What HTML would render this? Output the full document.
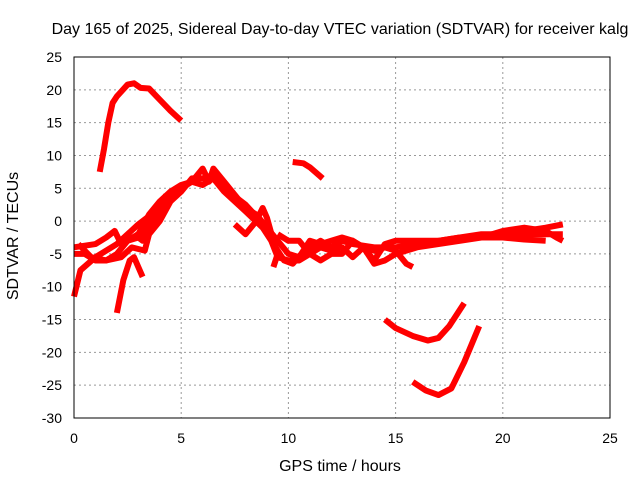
<!DOCTYPE html>
<html><head><meta charset="utf-8"><style>
body{margin:0;background:#fff;}
svg{display:block;font-family:"Liberation Sans",sans-serif;}
</style></head><body>
<svg id="chart" width="640" height="480">
<text x="340" y="34" font-size="16" text-anchor="middle">Day 165 of 2025, Sidereal Day-to-day VTEC variation (SDTVAR) for receiver kalg</text>
<text x="340" y="471" font-size="16" text-anchor="middle">GPS time / hours</text>
<text transform="translate(18,236) rotate(-90)" font-size="16" text-anchor="middle">SDTVAR / TECUs</text>
<g id="grid"></g><g id="series"></g>
<rect x="74" y="57" width="536" height="361" fill="none" stroke="#000" stroke-width="1"/>
</svg>
<script>
const xTicks=[0,5,10,15,20,25];
const yTicks=[25,20,15,10,5,0,-5,-10,-15,-20,-25,-30];
const arcTop=[[1.2,7.5],[1.4,11],[1.6,15],[1.8,18],[2.0,19],[2.5,20.8],[2.8,21],[3.1,20.3],[3.5,20.2],[4.0,18.5],[4.5,16.8],[5.0,15.3]];
const arcMid=[[10.2,9],[10.7,8.8],[11.0,8.2],[11.6,6.5]];
const arcLow1=[[14.5,-15],[15,-16.3],[15.8,-17.5],[16.5,-18.2],[17,-17.8],[17.5,-16],[18.2,-12.5]];
const arcLow2=[[15.8,-24.5],[16.4,-25.8],[17,-26.5],[17.6,-25.5],[18.2,-21.5],[18.9,-16]];
const lineA=[[0,-11.5],[0.3,-7.5],[1,-5.5],[2,-3.5],[3,-0.5],[4,2],[5,4.5],[5.5,6.5],[6,6.5],[6.5,7],[7,5],[8,2.5],[9,-1],[9.5,-3],[10,-5],[10.5,-5.5],[11,-4],[11.5,-3],[12,-4],[12.5,-3],[13,-3.5],[14,-4],[15,-4],[16,-3.5],[17,-3],[18,-2.5],[19,-2],[20,-2],[21,-1.5],[22,-1],[22.8,-0.5]];
const lineB=[[0,-4],[1,-3.5],[1.5,-2.5],[1.9,-1.5],[2.2,-3.5],[3,-2],[3.5,1],[4,3],[4.5,4.5],[5,5.5],[5.5,6],[6,8],[6.3,6],[6.5,8],[7,6],[7.5,4],[8,2],[8.5,1],[9,-1],[9.3,-3.5],[9.8,-6],[10.2,-6.5],[10.6,-5],[11,-3],[11.5,-3.5],[12,-3],[12.5,-2.5],[13,-3],[13.5,-4],[14,-4.5],[14.5,-4],[15,-4.5],[15.5,-6.5],[15.8,-7]];
const lineC=[[0,-5],[0.5,-5],[1,-6],[1.5,-6],[2,-5],[2.5,-3],[3,-2.5],[3.5,-1],[4,1],[4.5,4],[5,5],[5.5,6],[6,5.5],[6.5,6.5],[7,4.5],[8,1.5],[8.8,-1],[9.2,-3],[9.5,-5.5],[10,-6],[10.5,-6],[11,-5],[11.5,-4],[12,-4.5],[12.5,-4],[13,-5.5],[13.5,-4],[14,-6],[14.5,-3.5],[15,-3],[16,-3],[17,-3],[18,-2.5],[19,-2.5],[20,-2.5],[21,-2.8],[22,-3]];
const lineD=[[0.2,-3.5],[0.8,-5.5],[1.5,-6],[2.2,-5.5],[2.7,-4],[3.3,-4.5],[3.5,-2],[4,0],[4.5,3],[5,4.5]];
const lineE=[[2.8,-2],[3.2,-3],[3.5,0],[4,2],[4.3,4]];
const lineF=[[2.0,-14],[2.3,-9],[2.6,-6],[2.8,-5.5],[3.0,-7],[3.2,-8.5]];
const lineG=[[7.5,-0.5],[8,-2],[8.5,0],[8.8,2],[9,0.5],[9.3,-3],[9.5,-5],[9.3,-7]];
const lineH=[[9.5,-2],[10,-3],[10.5,-3],[11,-5],[11.5,-6],[12,-5],[12.5,-5],[13,-3],[13.5,-4],[14,-6.5],[14.5,-6],[15,-5],[16,-4],[17,-3.5],[18,-3],[19,-2.5],[20,-2],[21,-2],[22,-2],[22.8,-2]];
const lineI=[[19,-2.5],[20,-1.5],[21,-1],[22,-1.5],[22.5,-2.5],[22.8,-3]];
const allSeries=[arcTop,arcMid,arcLow1,arcLow2,lineA,lineB,lineC,lineD,lineE,lineF,lineG,lineH,lineI];
const NS="http://www.w3.org/2000/svg";
function xs(v){return 74+v*536/25;}
function ys(v){return 57+(25-v)*361/55;}
const grid=document.getElementById('grid');
xTicks.forEach(t=>{
 const x=xs(t);
 if(t>0&&t<25){const l=document.createElementNS(NS,'line');l.setAttribute('x1',x);l.setAttribute('x2',x);l.setAttribute('y1',57);l.setAttribute('y2',418);l.setAttribute('stroke','#999');l.setAttribute('stroke-dasharray','2,3');
 
 
 grid.appendChild(l);}
 const tk=document.createElementNS(NS,'text');tk.setAttribute('x',x);tk.setAttribute('y',443);tk.setAttribute('font-size','14');tk.setAttribute('text-anchor','middle');tk.textContent=t;
 
 
 grid.appendChild(tk);
});
yTicks.forEach(t=>{
 const y=ys(t);
 if(t<25&&t>-30){const l=document.createElementNS(NS,'line');l.setAttribute('x1',74);l.setAttribute('x2',610);l.setAttribute('y1',y);l.setAttribute('y2',y);l.setAttribute('stroke','#999');l.setAttribute('stroke-dasharray','2,3');
 
 
 grid.appendChild(l);}
 const tk=document.createElementNS(NS,'text');tk.setAttribute('x',62);tk.setAttribute('y',y+5);tk.setAttribute('font-size','14');tk.setAttribute('text-anchor','end');tk.textContent=t;
 
 
 grid.appendChild(tk);
});
const sg=document.getElementById('series');
allSeries.forEach(s=>{
 const p=document.createElementNS(NS,'polyline');
 p.setAttribute('points',s.map(d=>xs(d[0])+','+ys(d[1])).join(' '));
 p.setAttribute('fill','none');p.setAttribute('stroke','#f00');p.setAttribute('stroke-width','6');p.setAttribute('stroke-linejoin','round');
 
 
 sg.appendChild(p);
});
</script>
</body></html>
